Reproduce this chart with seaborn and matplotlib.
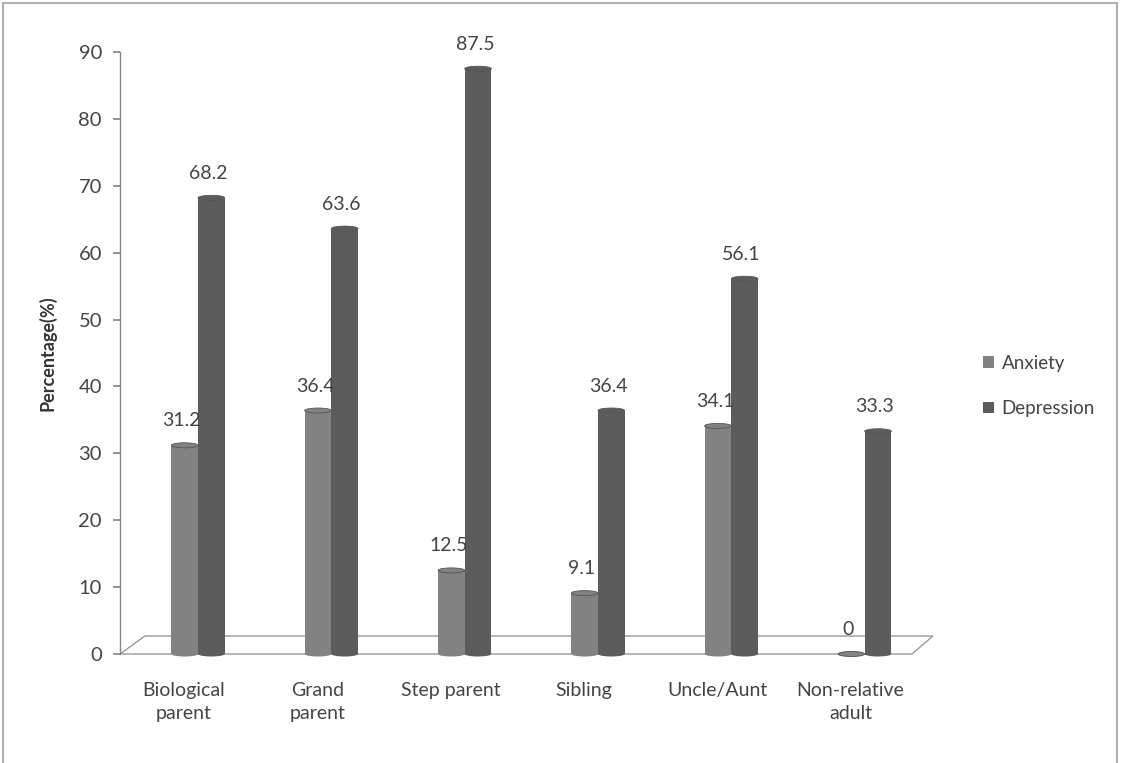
import matplotlib
matplotlib.use("Agg")
import matplotlib.pyplot as plt
import matplotlib.transforms as mtransforms
from matplotlib.patches import Ellipse, Polygon, Rectangle
import seaborn as sns
import pandas as pd

categories = ["Biological\nparent", "Grand\nparent", "Step parent", "Sibling", "Uncle/Aunt", "Non-relative\nadult"]
anxiety = [31.2, 36.4, 12.5, 9.1, 34.1, 0]
depression = [68.2, 63.6, 87.5, 36.4, 56.1, 33.3]
series = ["Anxiety", "Depression"]
yticks = [0, 10, 20, 30, 40, 50, 60, 70, 80, 90]

df = pd.DataFrame({
    "Category": categories * 2,
    "Series": [series[0]] * len(categories) + [series[1]] * len(categories),
    "Value": anxiety + depression,
})

sns.set_theme(style="white")
plt.rcParams["font.family"] = ["Lato", "DejaVu Sans"]

fig = plt.figure(figsize=(11.27, 7.63), dpi=100)
W, H = 1127, 763
ax = fig.add_axes([120 / W, (H - 654) / H, 800 / W, 602 / H])

palette = {"Anxiety": "#828282", "Depression": "#5c5c5c"}
sns.barplot(data=df, x="Category", y="Value", hue="Series", order=categories,
            hue_order=series, palette=palette, width=0.4, ax=ax,
            edgecolor="none", saturation=1)

x0, x1 = -0.585, 5.415
ax.set_xlim(x0, x1)
ax.set_ylim(0, 90)
ax.set_yticks(yticks)
ax.set_xlabel("")
ax.set_ylabel("Percentage(%)", fontsize=13, fontweight="bold", color="#333333", labelpad=16)

for s in ["top", "right", "bottom"]:
    ax.spines[s].set_visible(False)
ax.spines["left"].set_color("#888888")
ax.spines["left"].set_linewidth(1.0)
ax.tick_params(axis="y", left=True, length=5, color="#888888", labelsize=14.5, labelcolor="#444444", pad=8)
ax.tick_params(axis="x", bottom=False, labelsize=14, labelcolor="#444444", pad=14)

offset = mtransforms.ScaledTranslation(-14 / 100, 0, fig.dpi_scale_trans)
for lbl in ax.get_xticklabels():
    lbl.set_transform(lbl.get_transform() + offset)
    lbl.set_linespacing(1.45)

# Floor parallelogram
px = 800 / 6.0
py = 602 / 90.0
floor = Polygon([(x0, 0), (x0 + 25 / px, 18 / py), (x1 + 13 / px, 18 / py), (x1 - 8 / px, 0)],
                closed=True, facecolor="none", edgecolor="#9a9a9a", lw=1.0, clip_on=False, zorder=1)
ax.add_patch(floor)

# Cylinder look: caps and labels from seaborn's bar patches
for cont, vals, col in zip(ax.containers, [anxiety, depression], ["#828282", "#5c5c5c"]):
    for bar, v in zip(cont, vals):
        bx = bar.get_x()
        bw = bar.get_width()
        bh = bar.get_height()
        bar.set_zorder(2)
        cx = bx + bw / 2
        cap_h = 5 / py
        ax.add_patch(Ellipse((cx, bh), bw, cap_h, facecolor=col, edgecolor="#555555",
                             lw=0.6, zorder=3, clip_on=False))
        ax.add_patch(Ellipse((cx, 0), bw, cap_h, facecolor=col, edgecolor="none",
                             zorder=1.9, clip_on=False))
        ax.text(cx - 3 / px, bh + 16 / py, f"{v:g}", ha="center", va="bottom",
                fontsize=14, color="#444444", zorder=4)

# Legend
ax.legend_.remove()
handles = [Rectangle((0, 0), 1, 1, facecolor=palette[s], edgecolor="none") for s in series]
fig.legend(handles, series, loc="center left", bbox_to_anchor=(966 / W, 1 - 386 / H),
           frameon=False, fontsize=13.5, handlelength=0.6, handleheight=0.6,
           handletextpad=0.4, labelspacing=1.5, labelcolor="#444444")

# Outer frame
fig.patches.append(Rectangle((3 / W, -0.01), (1117 - 3) / W, 1 - 3 / H + 0.01, transform=fig.transFigure,
                             facecolor="none", edgecolor="#b0b0b0", lw=1.5, zorder=0))

fig.savefig("out.png", dpi=100)
